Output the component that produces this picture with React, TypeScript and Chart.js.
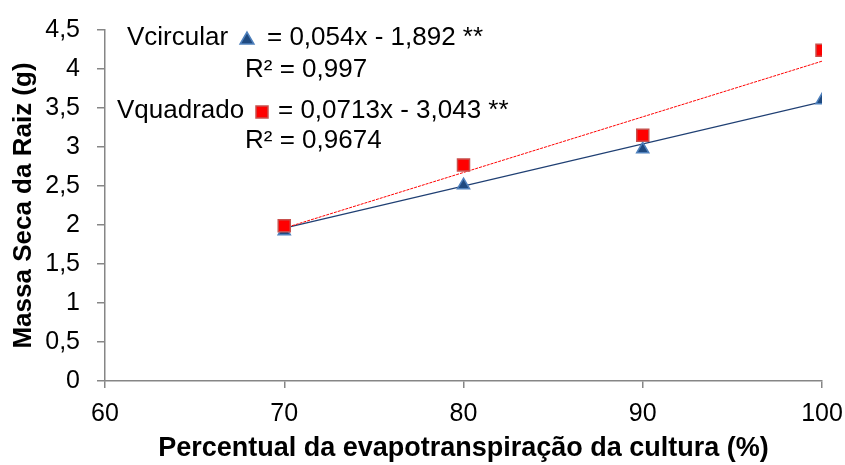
import React, { useEffect, useRef } from 'react';
import { Chart, registerables } from 'chart.js';

Chart.register(...registerables);

// ---- data ----
const xValues = [70, 80, 90, 100];
const vcircular = [1.92, 2.51, 2.97, 3.6];
const vquadrado = [1.99, 2.77, 3.15, 4.24];
const trendX = [70, 100];
const vcircularTrend = [1.96, 3.58];
const vquadradoTrend = [1.96, 4.1];
const xTicks = [60, 70, 80, 90, 100];
const yTicks = [0, 0.5, 1, 1.5, 2, 2.5, 3, 3.5, 4, 4.5];
const yTickLabels = ['0', '0,5', '1', '1,5', '2', '2,5', '3', '3,5', '4', '4,5'];
const eqCircular = ['Vcircular', '= 0,054x - 1,892 **', 'R² = 0,997'];
const eqQuadrado = ['Vquadrado', '= 0,0713x - 3,043 **', 'R² = 0,9674'];
const xTitle = 'Percentual da evapotranspiração da cultura (%)';
const yTitle = 'Massa Seca da Raiz (g)';

const FONT = "'Liberation Sans', Arial, sans-serif";
const BLUE_FILL = '#1F4A80';
const BLUE_BORDER = '#4F81BD';
const BLUE_LINE = '#1F3F73';
const RED_FILL = '#FF0000';
const RED_BORDER = '#C8504D';
const AXIS = '#868686';

function drawTri(ctx: CanvasRenderingContext2D, cx: number, cy: number, r: number) {
  ctx.beginPath();
  for (let i = 0; i < 3; i++) {
    const a = (i * 2 * Math.PI) / 3;
    const px = cx + Math.sin(a) * r;
    const py = cy - Math.cos(a) * r;
    if (i === 0) ctx.moveTo(px, py);
    else ctx.lineTo(px, py);
  }
  ctx.closePath();
  ctx.fillStyle = BLUE_FILL;
  ctx.fill();
  ctx.lineWidth = 1.5;
  ctx.strokeStyle = BLUE_BORDER;
  ctx.stroke();
}

function drawSq(ctx: CanvasRenderingContext2D, cx: number, cy: number, s: number) {
  ctx.beginPath();
  ctx.rect(cx - s / 2, cy - s / 2, s, s);
  ctx.fillStyle = RED_FILL;
  ctx.fill();
  ctx.lineWidth = 1.5;
  ctx.strokeStyle = RED_BORDER;
  ctx.stroke();
}

const equationPlugin = {
  id: 'equations',
  afterDraw(chart: any) {
    const ctx: CanvasRenderingContext2D = chart.ctx;
    ctx.save();
    ctx.font = `26px ${FONT}`;
    ctx.fillStyle = '#000';
    ctx.textAlign = 'left';
    ctx.textBaseline = 'alphabetic';
    ctx.fillText(eqCircular[0], 127, 45);
    drawTri(ctx, 247, 40, 8);
    ctx.fillStyle = '#000';
    ctx.fillText(eqCircular[1], 267, 45);
    ctx.fillText(eqCircular[2], 245, 77);
    ctx.fillText(eqQuadrado[0], 117, 118);
    drawSq(ctx, 262, 112, 12);
    ctx.fillStyle = '#000';
    ctx.fillText(eqQuadrado[1], 278, 118);
    ctx.fillText(eqQuadrado[2], 245, 148);
    ctx.restore();
  },
};

export default function App() {
  const ref = useRef<HTMLCanvasElement | null>(null);

  useEffect(() => {
    if (!ref.current) return;
    Chart.defaults.font.family = FONT;
    Chart.defaults.color = '#000';
    const chart = new Chart(ref.current, {
      type: 'scatter',
      data: {
        datasets: [
          {
            label: 'Vquadrado',
            data: xValues.map((x, i) => ({ x, y: vquadrado[i] })),
            pointStyle: 'rect',
            pointRadius: 8.5,
            pointBackgroundColor: RED_FILL,
            pointBorderColor: RED_BORDER,
            pointBorderWidth: 1.5,
            showLine: false,
          },
          {
            label: 'Vcircular',
            data: xValues.map((x, i) => ({ x, y: vcircular[i] })),
            pointStyle: 'triangle',
            pointRadius: 7,
            pointBackgroundColor: BLUE_FILL,
            pointBorderColor: BLUE_BORDER,
            pointBorderWidth: 1.5,
            showLine: false,
          },
          {
            label: 'Tendência Vquadrado',
            data: trendX.map((x, i) => ({ x, y: vquadradoTrend[i] })),
            showLine: true,
            pointRadius: 0,
            borderColor: '#FF0000',
            borderWidth: 1,
            borderDash: [3, 1],
          },
          {
            label: 'Tendência Vcircular',
            data: trendX.map((x, i) => ({ x, y: vcircularTrend[i] })),
            showLine: true,
            pointRadius: 0,
            borderColor: BLUE_LINE,
            borderWidth: 1.2,
          },
        ],
      },
      options: {
        animation: false,
        responsive: true,
        maintainAspectRatio: false,
        layout: { padding: { left: 0, right: 23, top: 30, bottom: 0 } },
        plugins: {
          legend: { display: false },
          tooltip: { enabled: false },
        },
        scales: {
          x: {
            type: 'linear',
            min: xTicks[0],
            max: xTicks[xTicks.length - 1],
            afterFit: (s: any) => {
              s.height = 84;
              s.paddingLeft = 0;
              s.paddingRight = 0;
            },
            afterBuildTicks: (s: any) => {
              s.ticks = xTicks.map((v) => ({ value: v }));
            },
            ticks: {
              font: { size: 25 },
              color: '#000',
              padding: 11,
              maxRotation: 0,
            },
            grid: {
              display: true,
              drawOnChartArea: false,
              drawTicks: true,
              tickLength: 7,
              color: AXIS,
              lineWidth: 1.5,
            },
            border: { display: true, color: AXIS, width: 1.5 },
            title: {
              display: true,
              text: xTitle,
              font: { size: 27, weight: 'bold' },
              color: '#000',
              padding: { top: 0, bottom: 0 },
            },
          },
          y: {
            type: 'linear',
            min: yTicks[0],
            max: yTicks[yTicks.length - 1],
            afterFit: (s: any) => {
              s.width = 105;
              s.paddingTop = 0;
              s.paddingBottom = 0;
            },
            afterBuildTicks: (s: any) => {
              s.ticks = yTicks.map((v) => ({ value: v }));
            },
            ticks: {
              font: { size: 25 },
              color: '#000',
              padding: 17,
              callback: (v: any) => {
                const i = yTicks.indexOf(Number(v));
                return i >= 0 ? yTickLabels[i] : '';
              },
            },
            grid: {
              display: true,
              drawOnChartArea: false,
              drawTicks: true,
              tickLength: 8,
              color: AXIS,
              lineWidth: 1.5,
            },
            border: { display: true, color: AXIS, width: 1.5 },
            title: {
              display: true,
              text: yTitle,
              font: { size: 26, weight: 'bold' },
              color: '#000',
              padding: { top: 8, bottom: 0 },
            },
          },
        },
      },
      plugins: [equationPlugin],
    });
    return () => chart.destroy();
  }, []);

  return (
    <div style={{ position: 'absolute', left: 0, top: 0, width: 845, height: 465, background: '#fff' }}>
      <canvas ref={ref} />
    </div>
  );
}
